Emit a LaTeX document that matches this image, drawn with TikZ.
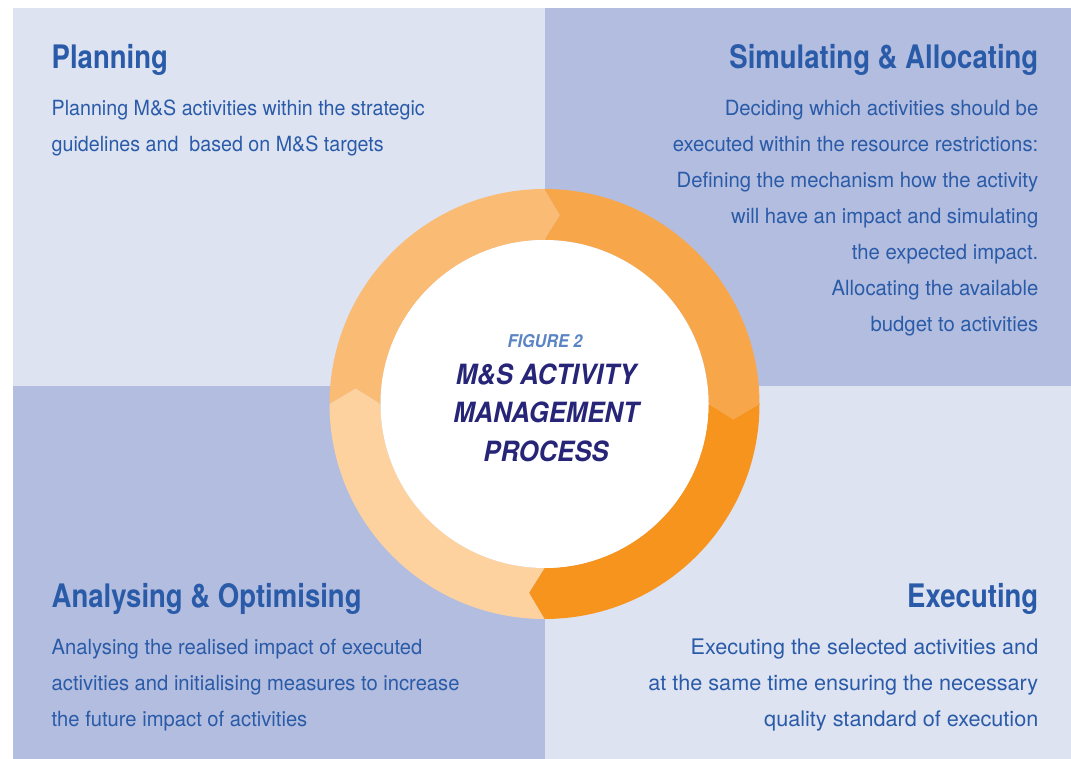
\documentclass[tikz,border=0pt]{standalone}
\usepackage{fontspec}
\usetikzlibrary{calc}
\newfontfamily\headfont{TeX Gyre Heros}[FakeStretch=0.85]
\newfontfamily\bodyA{TeX Gyre Heros}[FakeStretch=0.94]
\newfontfamily\bodyB{TeX Gyre Heros}[FakeStretch=0.97]
\newfontfamily\bodyC{TeX Gyre Heros}[FakeStretch=0.965]
\newfontfamily\bodyD{TeX Gyre Heros}[FakeStretch=1.01]
\newfontfamily\titlefont{TeX Gyre Heros}[FakeStretch=0.92]
\definecolor{panellight}{HTML}{DEE3F2}
\definecolor{paneldark}{HTML}{B3BDDF}
\definecolor{txtblue}{HTML}{2A5BA8}
\definecolor{figblue}{HTML}{5A84C4}
\definecolor{navy}{HTML}{272577}
\definecolor{segA}{HTML}{FABB74}
\definecolor{segB}{HTML}{F8A64A}
\definecolor{segC}{HTML}{F7941E}
\definecolor{segD}{HTML}{FDD29F}
\tikzset{
  head/.style={font=\headfont\bfseries\fontsize{32.5}{36}\selectfont, text=txtblue, inner sep=0pt},
  body/.style={font=#1\fontsize{21}{36}\selectfont, text=txtblue, inner sep=0pt},
  bodylarge/.style={font=#1\fontsize{21.5}{36}\selectfont, text=txtblue, inner sep=0pt},
  figlabel/.style={font=\titlefont\bfseries\itshape\fontsize{17.7}{20}\selectfont, text=figblue, inner sep=0pt},
  title/.style={font=\titlefont\bfseries\itshape\fontsize{28}{38}\selectfont, text=navy, inner sep=0pt},
}
\begin{document}
\begin{tikzpicture}[x=1bp,y=1bp]
\useasboundingbox (0,0) rectangle (1071,759);
% four quadrant panels
\fill[panellight] (13,751) rectangle (545,373);
\fill[paneldark] (545,751) rectangle (1071,373);
\fill[paneldark] (13,373) rectangle (545,0);
\fill[panellight] (545,373) rectangle (1071,0);

% cycle ring: four arrow segments running clockwise
\coordinate (c) at (544.5,355);
\foreach \a/\col in {180/segA, 90/segB, 0/segC, -90/segD} {
  \fill[\col] ($(c)+(\a:215bp)$) arc[start angle=\a, end angle=\a-90, radius=215bp]
    -- ($(c)+({\a-94.7}:189.5bp)$) -- ($(c)+({\a-90}:164bp)$)
    arc[start angle=\a-90, end angle=\a, radius=164bp]
    -- ($(c)+({\a-4.7}:189.5bp)$) -- cycle;
}
\node[circle, fill=white, minimum size=328bp, inner sep=0pt] (hub) at (c) {};

% centre title
\node[figlabel, anchor=base] (fig) at (545,411.3) {FIGURE 2};
\node[title, anchor=base] (t1) at (546,374) {M\&S ACTIVITY};
\node[title, anchor=base] (t2) at (546,336.3) {MANAGEMENT};
\node[title, anchor=base] (t3) at (546,297.3) {PROCESS};

% Planning
\node[head, anchor=base west] (hpl) at (51.5,690.5) {Planning};
\foreach \t [count=\i] in {{Planning M\&S activities within the strategic},
    {guidelines and\ \ based on M\&S targets}}
  \node[body=\bodyA, anchor=base west] (pl\i) at (51.5,679.5-36*\i) {\t};

% Simulating & Allocating
\node[head, anchor=base east] (hsa) at (1038.5,690.5) {Simulating \& Allocating};
\foreach \t [count=\i] in {{Deciding which activities should be},
    {executed within the resource restrictions:},
    {Defining the mechanism how the activity},
    {will have an impact and simulating},
    {the expected impact.},
    {Allocating the available},
    {budget to activities}}
  \node[body=\bodyB, anchor=base east] (sa\i) at (1038.5,679-36*\i) {\t};

% Analysing & Optimising
\node[head, anchor=base west] (hao) at (51.5,151.5) {Analysing \& Optimising};
\foreach \t [count=\i] in {{Analysing the realised impact of executed},
    {activities and initialising measures to increase},
    {the future impact of activities}}
  \node[body=\bodyC, anchor=base west] (ao\i) at (51.5,140-36*\i) {\t};

% Executing
\node[head, anchor=base east] (hex) at (1038.5,151.5) {Executing};
\foreach \t [count=\i] in {{Executing the selected activities and},
    {at the same time ensuring the necessary},
    {quality standard of execution}}
  \node[bodylarge=\bodyD, anchor=base east] (ex\i) at (1038.5,140-36*\i) {\t};
\end{tikzpicture}
\end{document}
